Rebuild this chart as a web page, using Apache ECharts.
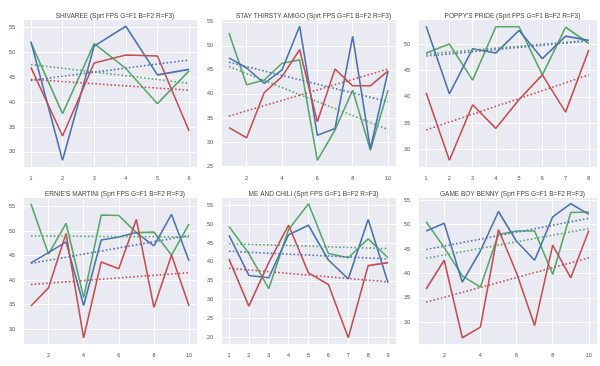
<!DOCTYPE html>
<html><head><meta charset="utf-8">
<script src="https://cdn.jsdelivr.net/npm/echarts@6/dist/echarts.min.js"></script>
<style>html,body{margin:0;padding:0;background:#fff}#c{width:600px;height:366px}</style>
</head><body><div id="c"></div>
<script>
const titles = [
  "SHIVAREE (Sprt FPS G=F1 B=F2 R=F3)",
  "STAY THIRSTY AMIGO (Sprt FPS G=F1 B=F2 R=F3)",
  "POPPY'S PRIDE (Sprt FPS G=F1 B=F2 R=F3)",
  "ERNIE'S MARTINI (Sprt FPS G=F1 B=F2 R=F3)",
  "ME AND CHILI (Sprt FPS G=F1 B=F2 R=F3)",
  "GAME BOY BENNY (Sprt FPS G=F1 B=F2 R=F3)"
];
const xSteps = [1, 2, 1, 2, 1, 2];

const shivareeG = [52.0, 37.7, 51.8, 46.8, 39.7, 46.3];
const shivareeB = [52.2, 28.3, 51.3, 55.3, 45.5, 46.6];
const shivareeR = [47.0, 33.2, 47.9, 49.5, 49.3, 34.2];
const shivareeTrendG = [47.6, 43.8];
const shivareeTrendB = [44.4, 48.5];
const shivareeTrendR = [44.6, 42.4];

const amigoG = [52.7, 41.9, 42.9, 46.4, 47.1, 26.2, 32.5, 40.8, 28.3, 40.8];
const amigoB = [47.5, 45.4, 42.2, 45.0, 54.1, 31.4, 32.8, 52.0, 28.6, 44.7];
const amigoR = [33.0, 30.9, 40.3, 43.6, 49.2, 34.2, 45.2, 41.7, 41.7, 44.8];
const amigoTrendG = [45.7, 32.6];
const amigoTrendB = [46.6, 38.4];
const amigoTrendR = [35.4, 45.2];

const poppyG = [48.4, 50.1, 43.2, 53.4, 53.4, 44.2, 53.3, 50.2];
const poppyB = [53.5, 40.6, 49.2, 48.4, 52.7, 47.3, 51.6, 50.8];
const poppyR = [40.8, 27.9, 38.5, 34.0, 39.5, 44.2, 37.1, 49.0];
const poppyTrendG = [48.2, 50.8];
const poppyTrendB = [47.8, 50.7];
const poppyTrendR = [33.7, 44.2];

const ernieG = [55.6, 45.3, 51.6, 36.4, 53.3, 53.2, 49.7, 49.8, 45.1, 51.5];
const ernieB = [43.5, 45.6, 47.8, 34.8, 48.2, 48.8, 49.7, 47.0, 53.4, 43.9];
const ernieR = [34.7, 38.4, 49.5, 28.2, 43.7, 42.3, 52.4, 34.4, 45.1, 34.7];
const ernieTrendG = [49.0, 48.8];
const ernieTrendB = [43.4, 49.1];
const ernieTrendR = [39.1, 41.5];

const chiliG = [49.4, 42.2, 32.9, 48.6, 55.4, 42.2, 41.1, 46.1, 41.1];
const chiliB = [47.1, 36.4, 35.8, 47.2, 49.7, 40.5, 35.5, 51.2, 34.5];
const chiliR = [40.8, 28.3, 39.8, 49.7, 37.1, 34.0, 19.9, 39.0, 39.8];
const chiliTrendG = [44.8, 43.5];
const chiliTrendB = [42.8, 40.8];
const chiliTrendR = [38.3, 34.7];

const bennyG = [50.6, 45.3, 39.5, 37.2, 48.0, 48.7, 48.7, 39.8, 52.5, 52.6];
const bennyB = [48.7, 50.3, 38.2, 44.6, 52.7, 46.6, 42.7, 51.6, 54.3, 52.1];
const bennyR = [36.8, 42.7, 26.8, 29.0, 49.0, 40.1, 29.3, 45.8, 39.1, 48.8];
const bennyTrendG = [43.1, 49.2];
const bennyTrendB = [44.9, 51.3];
const bennyTrendR = [34.1, 43.2];

const panels = [
  [shivareeG, shivareeB, shivareeR, shivareeTrendG, shivareeTrendB, shivareeTrendR],
  [amigoG, amigoB, amigoR, amigoTrendG, amigoTrendB, amigoTrendR],
  [poppyG, poppyB, poppyR, poppyTrendG, poppyTrendB, poppyTrendR],
  [ernieG, ernieB, ernieR, ernieTrendG, ernieTrendB, ernieTrendR],
  [chiliG, chiliB, chiliR, chiliTrendG, chiliTrendB, chiliTrendR],
  [bennyG, bennyB, bennyR, bennyTrendG, bennyTrendB, bennyTrendR]
];

const colors = ['#55A868', '#4C72B0', '#C44E52'];
const colLeft = [23, 221, 418];
const colWidth = [174, 175, 179];
const rowTop = [19.5, 197];
const rowHeight = [147.5, 147.5];
const titleTop = [8, 186];
const font = 'Liberation Sans, Arial, sans-serif';

const grid = [], xAxis = [], yAxis = [], series = [], title = [];
panels.forEach((p, i) => {
  const c = i % 3, r = Math.floor(i / 3);
  grid.push({left: colLeft[c], top: rowTop[r], width: colWidth[c], height: rowHeight[r],
    show: true, backgroundColor: '#EAEAF2', borderWidth: 0});
  title.push({text: titles[i], left: colLeft[c] + colWidth[c] / 2, top: titleTop[r], textAlign: 'center',
    textStyle: {fontSize: 6.5, fontWeight: 'normal', color: '#444', fontFamily: font}});
  const n = p[0].length;
  const xr = n - 1;
  const all = [].concat(p[0], p[1], p[2], p[3], p[4], p[5]);
  const mn = Math.min.apply(null, all), mx = Math.max.apply(null, all);
  const yr = mx - mn;
  const axisCommon = {
    axisLine: {show: false}, axisTick: {show: false},
    splitLine: {show: true, lineStyle: {color: '#ffffff', width: 1}},
    axisLabel: {fontSize: 5.5, color: '#555', fontFamily: font, showMinLabel: false, showMaxLabel: false}
  };
  xAxis.push(Object.assign({type: 'value', gridIndex: i, min: 1 - 0.05 * xr, max: n + 0.05 * xr,
    minInterval: xSteps[i], maxInterval: xSteps[i]}, axisCommon,
    {axisLabel: Object.assign({}, axisCommon.axisLabel, {margin: 8})}));
  yAxis.push(Object.assign({type: 'value', gridIndex: i, min: mn - 0.05 * yr, max: mx + 0.05 * yr,
    minInterval: 5, maxInterval: 5}, axisCommon,
    {axisLabel: Object.assign({}, axisCommon.axisLabel, {margin: 8})}));
  for (let k = 0; k < 3; k++) {
    series.push({type: 'line', xAxisIndex: i, yAxisIndex: i, symbol: 'none', silent: true,
      data: p[k].map((v, j) => [j + 1, v]),
      lineStyle: {color: colors[k], width: 1.6}, z: 2});
  }
  for (let k = 0; k < 3; k++) {
    series.push({type: 'line', xAxisIndex: i, yAxisIndex: i, symbol: 'none', silent: true,
      data: [[1, p[3 + k][0]], [n, p[3 + k][1]]],
      lineStyle: {color: colors[k], width: 1.6, type: [1.6, 2.2]}, z: 3});
  }
});

const chart = echarts.init(document.getElementById('c'), null, {renderer: 'canvas'});
chart.setOption({animation: false, backgroundColor: '#fff', title, grid, xAxis, yAxis, series});
</script></body></html>
